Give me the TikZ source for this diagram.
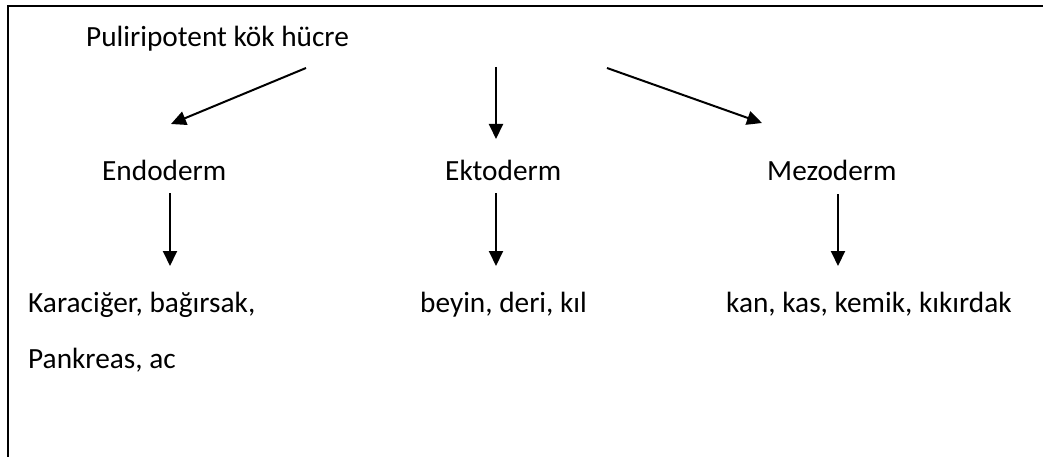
\documentclass[tikz,border=0pt]{standalone}
\usepackage{fontspec}
\setmainfont{Carlito}
\usetikzlibrary{arrows.meta}
\tikzset{
  lbl/.style={inner sep=0pt, anchor=base west, font=\fontsize{29.3}{35}\selectfont},
  conn/.style={line width=2pt, -{Triangle[length=15pt,width=14pt]}},
  frame/.style={line width=2.6pt}
}
\begin{document}
\begin{tikzpicture}[x=1pt,y=-1pt]
  \useasboundingbox (0,0) rectangle (1043,457);
  % open frame: top and left edges only
  \draw[frame] (8,457) -- (8,6) -- (1043,6);

  % labels
  \node[lbl] (root) at (86,47) {Puliripotent kök hücre};
  \node[lbl] (endo) at (102,180) {Endoderm};
  \node[lbl] (ekto) at (445,180) {Ektoderm};
  \node[lbl] (mezo) at (767,180) {Mezoderm};
  \node[lbl] (endoA) at (28,312) {Karaciğer, bağırsak,};
  \node[lbl] (endoB) at (28,368) {Pankreas, ac};
  \node[lbl] (ektoA) at (420,312) {beyin, deri, kıl};
  \node[lbl] (mezoA) at (726,312) {kan, kas, kemik, kıkırdak};

  % arrow end points
  \coordinate (r1) at (306,68);
  \coordinate (r2) at (496,67);
  \coordinate (r3) at (607,68);
  \coordinate (t1) at (171,124);
  \coordinate (t2) at (496,139);
  \coordinate (t3) at (762,123);
  \coordinate (e1) at (170,193);
  \coordinate (e2) at (170,266);
  \coordinate (k1) at (496,193);
  \coordinate (k2) at (496,266);
  \coordinate (m1) at (838,194);
  \coordinate (m2) at (838,266);

  \draw[conn] (r1) -- (t1);
  \draw[conn] (r2) -- (t2);
  \draw[conn] (r3) -- (t3);
  \draw[conn] (e1) -- (e2);
  \draw[conn] (k1) -- (k2);
  \draw[conn] (m1) -- (m2);
\end{tikzpicture}
\end{document}
